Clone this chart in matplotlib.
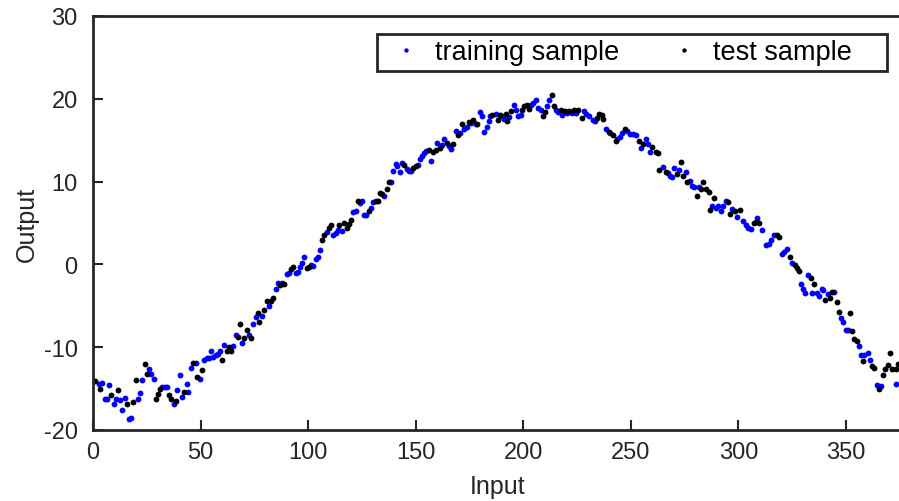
import numpy as np
import matplotlib
matplotlib.use("Agg")
import matplotlib.pyplot as plt

plt.rcParams['font.family'] = ['Liberation Sans', 'DejaVu Sans']
plt.rcParams['axes.unicode_minus'] = False

# training sample (blue)
train_x = [2.6, 4.2, 5.4, 6.5, 7.3, 9.6, 10.5, 12.7, 13.6, 14.7, 16.9, 17.8, 20.9, 22.0, 22.9, 26.0, 27.1, 28.2,
           32.2, 33.6, 34.5, 37.5, 39.2, 40.4, 41.5, 43.5, 44.3, 45.5, 47.7, 49.7, 51.7, 52.8, 53.9, 55.0, 55.9,
           57.0, 57.9, 59.0, 61.0, 65.2, 66.3, 69.4, 72.5, 74.5, 75.6, 78.7, 81.8, 84.9, 85.8, 88.0, 90.0, 91.1,
           94.2, 95.1, 96.2, 97.3, 98.2, 101.3, 102.4, 103.5, 104.4, 105.5, 108.6, 111.7, 112.8, 113.7, 115.8,
           121.0, 122.1, 124.1, 125.1, 126.1, 127.1, 129.2, 130.2, 135.4, 138.5, 139.5, 140.6, 141.5, 142.7,
           143.7, 145.8, 146.8, 147.8, 150.9, 152.0, 153.0, 154.0, 155.0, 157.1, 159.7, 162.3, 163.2, 165.4,
           166.4, 168.5, 170.5, 172.5, 173.6, 175.6, 177.8, 179.8, 180.9, 181.8, 182.9, 184.0, 184.7, 187.1,
           190.2, 191.1, 193.4, 195.6, 196.6, 197.6, 198.8, 203.5, 204.6, 205.7, 206.9, 208.0, 211.1, 212.0,
           215.1, 216.2, 218.2, 220.4, 222.4, 224.4, 228.2, 229.1, 230.6, 232.2, 233.3, 238.2, 240.5, 243.6,
           244.9, 246.0, 248.3, 249.5, 250.8, 252.2, 254.5, 256.8, 257.8, 258.8, 265.0, 267.3, 268.1, 269.2,
           270.1, 272.3, 275.4, 277.4, 278.5, 279.4, 281.6, 287.8, 289.4, 290.3, 291.8, 292.9, 294.0, 297.2,
           299.4, 302.2, 303.3, 304.5, 305.8, 308.4, 311.0, 313.0, 314.1, 315.1, 316.6, 320.0, 321.2, 322.6,
           325.0, 329.0, 330.1, 331.1, 332.4, 334.4, 336.3, 337.5, 338.6, 339.3, 341.4, 344.5, 347.6, 348.7,
           349.8, 351.0, 356.0, 356.9, 358.3, 360.3, 361.0, 364.2, 366.1, 373.1]
train_y = [-14.4, -14.3, -16.2, -16.3, -14.6, -16.8, -16.3, -16.4, -17.6, -16.1, -18.7, -18.6, -16.2, -15.5, -14.0,
           -12.6, -13.2, -13.9, -14.8, -14.8, -14.8, -16.9, -15.2, -13.4, -16.0, -14.4, -15.4, -12.5, -11.9,
           -13.9, -11.6, -11.3, -11.3, -10.4, -11.2, -11.0, -10.8, -10.5, -9.7, -9.9, -8.5, -9.5, -8.5, -7.2,
           -6.4, -6.2, -5.0, -3.0, -2.3, -2.3, -1.2, -1.0, -1.0, -0.9, -0.3, 0.2, 0.9, -0.1, -0.2, 0.7, 0.9, 1.7,
           3.9, 3.6, 3.8, 4.1, 4.0, 6.3, 6.5, 7.4, 7.6, 6.0, 6.0, 6.8, 7.5, 8.3, 9.9, 11.3, 12.1, 11.9, 11.2,
           12.2, 11.5, 11.3, 11.3, 12.0, 12.7, 13.1, 13.4, 13.7, 12.5, 14.7, 14.4, 15.1, 14.3, 13.9, 16.1, 15.9,
           16.3, 16.6, 17.1, 16.9, 18.4, 17.9, 16.0, 16.6, 17.3, 17.9, 18.2, 17.9, 17.6, 17.8, 19.3, 18.7, 17.9,
           18.0, 19.2, 19.5, 19.8, 18.9, 18.6, 19.1, 19.9, 18.6, 18.4, 18.1, 18.3, 18.3, 18.3, 18.5, 18.2, 17.9,
           17.4, 17.3, 16.4, 15.9, 15.1, 15.4, 15.9, 16.1, 15.8, 15.7, 15.6, 14.0, 15.1, 14.5, 13.6, 11.8, 11.0,
           10.7, 10.5, 11.7, 11.4, 11.1, 10.1, 9.5, 9.3, 9.3, 7.1, 6.8, 7.0, 6.5, 7.0, 7.6, 6.7, 5.7, 5.2, 4.8,
           4.4, 4.3, 5.6, 4.1, 2.3, 2.5, 2.9, 3.6, 1.3, 1.5, 1.8, 0.2, -2.4, -3.0, -3.4, -1.3, -3.5, -3.5, -3.8,
           -3.0, -3.1, -3.6, -3.3, -6.5, -7.0, -7.9, -7.9, -9.9, -11.0, -11.0, -10.7, -11.5, -14.6, -14.7, -14.4]

# test sample (black)
test_x = [1.1, 3.4, 8.5, 11.6, 15.8, 18.7, 19.8, 24.0, 25.1, 29.1, 30.2, 31.3, 35.3, 36.4, 38.4, 42.3, 46.6,
          48.5, 50.8, 60.1, 62.1, 63.1, 64.1, 67.2, 68.3, 70.3, 71.4, 73.4, 76.5, 77.3, 79.6, 80.7, 82.7, 83.8,
          86.9, 88.9, 92.0, 93.1, 99.3, 100.4, 106.6, 107.5, 109.7, 110.6, 114.5, 116.8, 117.9, 119.0, 119.9,
          123.0, 128.2, 131.4, 132.3, 133.4, 134.4, 136.5, 137.5, 144.7, 148.8, 150.0, 156.1, 158.1, 159.2,
          161.2, 164.4, 167.4, 169.5, 171.6, 174.7, 176.7, 178.7, 185.5, 188.1, 189.1, 191.8, 192.6, 194.2,
          199.5, 200.4, 201.5, 202.6, 209.0, 210.0, 213.2, 214.2, 217.3, 219.3, 221.3, 223.5, 225.5, 227.1,
          234.1, 235.3, 236.4, 237.1, 239.8, 241.8, 242.9, 247.2, 253.7, 255.4, 259.6, 261.6, 262.7, 263.2,
          266.3, 271.2, 273.2, 274.3, 276.3, 280.5, 282.5, 283.6, 284.7, 286.2, 286.9, 288.7, 295.2, 296.0,
          298.3, 300.9, 307.2, 308.0, 309.5, 317.7, 318.9, 323.9, 326.2, 327.0, 328.1, 333.9, 335.2, 340.4,
          342.5, 343.5, 345.6, 346.7, 351.8, 352.8, 353.8, 354.9, 357.9, 362.1, 363.0, 365.2, 367.2, 368.3,
          369.3, 370.3, 371.4, 373.0, 374.2]
test_y = [-14.1, -15.0, -15.8, -15.2, -16.9, -16.6, -14.0, -12.0, -13.2, -16.3, -15.6, -15.1, -15.8, -16.3,
          -16.5, -15.4, -11.9, -13.6, -12.7, -11.5, -10.4, -10.0, -10.5, -8.8, -7.2, -8.9, -7.9, -8.9, -5.9,
          -7.0, -5.5, -4.4, -4.4, -4.0, -2.5, -2.4, -0.6, -0.3, -0.4, -0.3, 2.9, 3.6, 4.4, 4.7, 4.8, 5.0, 4.4,
          4.9, 5.4, 7.6, 6.4, 7.6, 7.7, 8.6, 8.5, 9.1, 9.9, 12.0, 11.6, 11.9, 13.8, 13.6, 13.8, 14.0, 14.7,
          14.6, 15.6, 17.0, 17.2, 17.4, 17.0, 18.1, 17.5, 18.0, 18.2, 17.3, 18.5, 18.6, 19.1, 19.3, 18.8, 17.9,
          18.4, 20.5, 19.1, 18.7, 18.5, 18.5, 18.6, 18.6, 17.7, 17.7, 18.2, 18.0, 17.6, 16.0, 15.6, 14.9, 16.3,
          14.9, 14.6, 14.2, 13.6, 13.4, 11.4, 11.1, 10.9, 12.4, 10.7, 9.9, 8.3, 9.1, 9.9, 9.1, 8.7, 6.6, 8.0,
          7.5, 6.1, 6.4, 6.6, 5.0, 5.1, 5.0, 3.6, 3.3, 0.9, -0.1, -0.4, -0.8, -1.6, -2.4, -4.3, -4.1, -3.3,
          -4.5, -5.8, -5.9, -8.0, -9.0, -9.3, -11.7, -12.3, -12.5, -15.0, -13.3, -12.6, -12.2, -10.7, -12.6,
          -12.6, -12.0]

x_ticks = [0, 50, 100, 150, 200, 250, 300, 350]
y_ticks = [-20, -10, 0, 10, 20, 30]

fig = plt.figure(figsize=(8.99, 5.02), dpi=100)
# right edge of the box falls just outside the picture, as in the original
ax = fig.add_axes([93/899, 71/502, 809/899, 414/502])

ax.plot(train_x, train_y, 'o', color=(0, 0, 1), ms=4.2, mew=0, label='training sample')
# figure spaces pad the legend box on the right like the original
ax.plot(test_x, test_y, 'o', color='black', ms=4.2, mew=0, label='test sample\u2007\u2007')

ax.set_xlim(0, 376)
ax.set_ylim(-20, 30)
ax.set_xticks(x_ticks)
ax.set_yticks(y_ticks)
ax.tick_params(direction='in', length=7, width=1.5, labelsize=17, colors='#262626')
ax.tick_params(axis='x', pad=8)
ax.tick_params(axis='y', pad=11)
for s in ax.spines.values():
    s.set_linewidth(2)
    s.set_color('#262626')

ax.set_xlabel('Input', fontsize=18, color='#262626', labelpad=8)
ax.set_ylabel('Output', fontsize=18, color='#262626', labelpad=3.5)

leg = ax.legend(loc='upper left', bbox_to_anchor=((377 - 93) / 809, (431 - 35) / 414), ncol=2,
                fontsize=19.5, fancybox=False, framealpha=1, edgecolor='#262626', markerscale=0.75,
                handlelength=1.75, handletextpad=0.2, columnspacing=1.5, borderpad=0.2,
                borderaxespad=0)
leg.get_frame().set_linewidth(2)

fig.savefig('out.png', dpi=100)
